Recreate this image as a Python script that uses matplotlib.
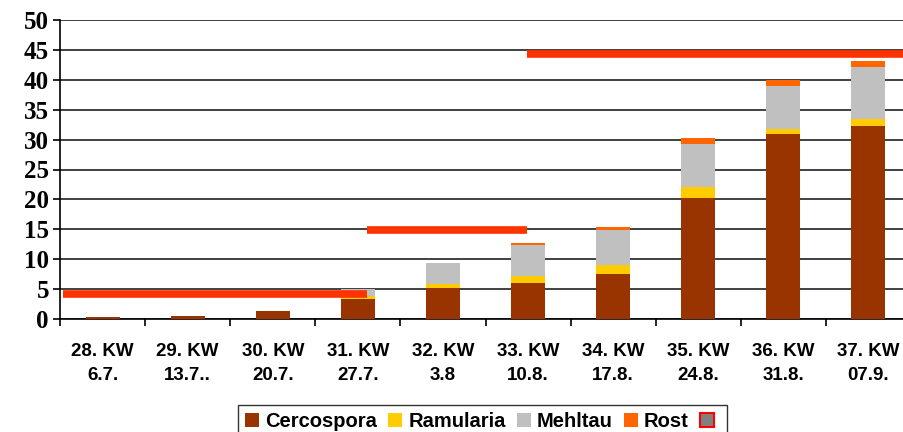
import matplotlib
matplotlib.use('Agg')
from matplotlib import pyplot as plt
from matplotlib.patches import Patch
import numpy as np

# Daten
wochen = ["28. KW\n6.7.", "29. KW\n13.7..", "30. KW\n20.7.", "31. KW\n27.7.", "32. KW\n3.8",
          "33. KW\n10.8.", "34. KW\n17.8.", "35. KW\n24.8.", "36. KW\n31.8.", "37. KW\n07.9."]
cercospora = [0.3, 0.5, 1.3, 3.3, 5.2, 6.0, 7.5, 20.2, 30.9, 32.3]
ramularia = [0, 0, 0, 0.6, 0.7, 1.2, 1.5, 1.9, 0.9, 1.1]
mehltau = [0, 0, 0, 1.1, 3.5, 5.2, 5.9, 7.2, 7.2, 8.8]
rost = [0, 0, 0, 0, 0, 0.3, 0.5, 1.0, 0.9, 0.9]

# Schwellenwerte (rote Linien)
schwelle = [4.2, 14.9, 44.3]
schwelle_von = [-0.46, 3.11, 4.99]
schwelle_bis = [3.11, 4.99, 9.5]

farben = ["#993300", "#FFCC00", "#C0C0C0", "#FF6600"]
namen = ["Cercospora", "Ramularia", "Mehltau", "Rost"]

fig = plt.figure(figsize=(9.04, 4.32), dpi=100)
ax = fig.add_axes([60 / 904, 1 - 319 / 432, 851 / 904, 299 / 432])

x = np.arange(len(wochen))
unten = np.zeros(len(wochen))
for werte, farbe in zip([cercospora, ramularia, mehltau, rost], farben):
    ax.bar(x, werte, width=0.4, bottom=unten, color=farbe, zorder=3)
    unten = unten + np.array(werte)

ax.hlines(schwelle, schwelle_von, schwelle_bis, colors="#FF3300", linewidth=5.5, zorder=4)

ax.set_xlim(-0.5, 9.5)
ax.set_ylim(0, 50)
ax.set_yticks(np.arange(0, 51, 5))
ax.yaxis.grid(True, color="#202020", linewidth=1.2, zorder=0)
ax.set_axisbelow(True)
for s in ["top", "right"]:
    ax.spines[s].set_visible(False)
ax.spines["left"].set_linewidth(1.2)
ax.spines["bottom"].set_linewidth(1.2)

ax.set_xticks(x)
ax.set_xticklabels(wochen, fontfamily="Liberation Sans", fontweight="bold", fontsize=13.5)
for lbl in ax.get_xticklabels():
    lbl.set_linespacing(1.6)
ax.set_xticks(np.arange(-0.5, 9.6, 1), minor=True)
ax.tick_params(axis="x", which="major", length=0, pad=17)
ax.tick_params(axis="x", which="minor", length=5, width=1.2, direction="out")
ax.set_yticklabels([str(v) for v in range(0, 51, 5)], fontfamily="Liberation Serif",
                   fontweight="bold", fontsize=18)
ax.tick_params(axis="y", length=5, width=1.2, pad=3)

handles = [Patch(facecolor=f, edgecolor="none", label=n) for f, n in zip(farben, namen)]
handles.append(Patch(facecolor="#808080", edgecolor="#FF0000", linewidth=1.5, label=""))
leg = fig.legend(handles=handles, loc="upper left", bbox_to_anchor=(238 / 904, 1 - 405 / 432),
                 ncol=5, frameon=True, fancybox=False, edgecolor="black",
                 prop={"family": "Liberation Sans", "weight": "bold", "size": 14.5},
                 handlelength=0.7, handleheight=0.7, handletextpad=0.3, columnspacing=0.55,
                 borderpad=0.35, borderaxespad=0)
leg.get_frame().set_linewidth(1.0)

plt.savefig("out.png", dpi=100)
plt.close("all")
